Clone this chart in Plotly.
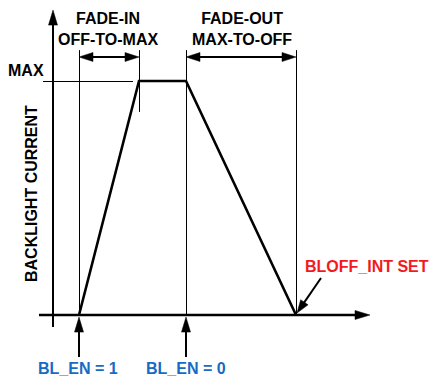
import plotly.graph_objects as go

# ---- data (time in arbitrary units from the y-axis, current normalised to MAX = 1) ----
event_names = ["BL_EN = 1", "MAX reached", "BL_EN = 0", "BLOFF_INT SET"]
event_times = [26, 86, 133, 243]
trace_times = [26, 86, 133, 243]
trace_current = [0.0, 1.0, 1.0, 0.0]
max_level = 1.0
max_label = "MAX"
y_title = "BACKLIGHT CURRENT"
fade_in_label = ["FADE-IN", "OFF-TO-MAX"]
fade_out_label = ["FADE-OUT", "MAX-TO-OFF"]
bottom_labels = ["BL_EN = 1", "BL_EN = 0"]
flag_label = "BLOFF_INT SET"

# ---- layout geometry ----
W, H = 430, 377
X_RANGE = [-53, 377]
Y_RANGE = [-0.265, 1.3462]
FONT = "Arial, 'Liberation Sans', Helvetica, sans-serif"
FS = 16
BLUE = "#176bc4"
RED = "#f21a1e"

sx = (X_RANGE[1] - X_RANGE[0]) / W
sy = (Y_RANGE[1] - Y_RANGE[0]) / H
HX = 0.5 * sx   # half pixel in data units (crisp 1px lines)
HY = 0.5 * sy


def to_px(t, c):
    return (t - X_RANGE[0]) / sx, (Y_RANGE[1] - c) / sy


def to_data(px, py):
    return X_RANGE[0] + px * sx, Y_RANGE[1] - py * sy


shapes = []


def line(t0, c0, t1, c1, width=1, color="black"):
    shapes.append(dict(type="line", xref="x", yref="y", x0=t0, y0=c0, x1=t1, y1=c1,
                       line=dict(color=color, width=width)))


def head(tip_t, tip_c, from_t, from_c, length=14, half=4.5):
    tx, ty = to_px(tip_t, tip_c)
    fx, fy = to_px(from_t, from_c)
    dx, dy = tx - fx, ty - fy
    n = (dx * dx + dy * dy) ** 0.5
    ux, uy = dx / n, dy / n
    bx, by = tx - ux * length, ty - uy * length
    p1 = to_data(bx - uy * half, by + ux * half)
    p2 = to_data(bx + uy * half, by - ux * half)
    path = "M {},{} L {},{} L {},{} Z".format(tip_t, tip_c, p1[0], p1[1], p2[0], p2[1])
    shapes.append(dict(type="path", xref="x", yref="y", path=path,
                       fillcolor="black", line=dict(color="black", width=0.5)))
    return to_data(bx + ux * 2, by + uy * 2)


def arrow(t0, c0, t1, c1, width=2, both=False, length=14, half=4.5):
    end = head(t1, c1, t0, c0, length, half)
    start = (t0, c0)
    if both:
        start = head(t0, c0, t1, c1, length, half)
    line(start[0], start[1], end[0], end[1], width)


# axes
arrow(0, -0.051, 0, 1.303, width=2, length=15, half=4.5)
arrow(-14, 0, 317, 0, width=2.5, length=15, half=4.5)

# MAX guide line
line(-10, max_level - HY, 80, max_level - HY, width=1)

# vertical guide lines
guide_top = 1.132
line(event_times[0] + HX, 0, event_times[0] + HX, guide_top)
line(event_times[1] + HX, 0.868, event_times[1] + HX, guide_top)
line(event_times[2] + HX, 0, event_times[2] + HX, guide_top)
line(event_times[3] + HX, 0, event_times[3] + HX, guide_top)

# fade interval arrows
arrow_level = 1.1026
arrow(event_times[0], arrow_level, event_times[1], arrow_level, width=2, both=True, length=14, half=4.5)
arrow(event_times[2], arrow_level, event_times[3], arrow_level, width=2, both=True, length=14, half=4.5)

# event arrows below axis
arrow(event_times[0], -0.18, event_times[0], -0.009, width=2, length=15, half=4.5)
arrow(event_times[2], -0.18, event_times[2], -0.009, width=2, length=15, half=4.5)

# BLOFF_INT SET pointer
arrow(event_times[3] + 25, 0.158, event_times[3] + 1, 0.0085, width=2, length=13, half=4.5)

fig = go.Figure()
fig.add_trace(go.Scatter(x=trace_times, y=trace_current, mode="lines",
                         line=dict(color="black", width=2.6), hoverinfo="skip",
                         showlegend=False))

ann = []


def text(t, c, s, color="black", xanchor="center", angle=0):
    ann.append(dict(x=t, y=c, xref="x", yref="y", text="<b>" + s + "</b>", showarrow=False,
                    xanchor=xanchor, yanchor="middle", textangle=angle,
                    font=dict(family=FONT, size=FS, color=color)))


text(55, 1.222, "<br>".join(fade_in_label))
text(189, 1.222, "<br>".join(fade_out_label))
text(-7, 1.047, max_label, xanchor="right")
text(-22, 0.517, y_title, angle=-90)
text(event_times[0] - 1, -0.2286, bottom_labels[0], color=BLUE)
text(event_times[2], -0.2286, bottom_labels[1], color=BLUE)
text(313.5, 0.207, flag_label, color=RED)

fig.update_layout(
    width=W, height=H, margin=dict(l=0, r=0, t=0, b=0),
    paper_bgcolor="white", plot_bgcolor="white",
    xaxis=dict(range=X_RANGE, visible=False, fixedrange=True),
    yaxis=dict(range=Y_RANGE, visible=False, fixedrange=True),
    shapes=shapes, annotations=ann, showlegend=False,
)

fig.write_html("out.html", config={"displayModeBar": False},
               post_script="document.body.style.margin='0px';document.body.style.overflow='hidden';")
